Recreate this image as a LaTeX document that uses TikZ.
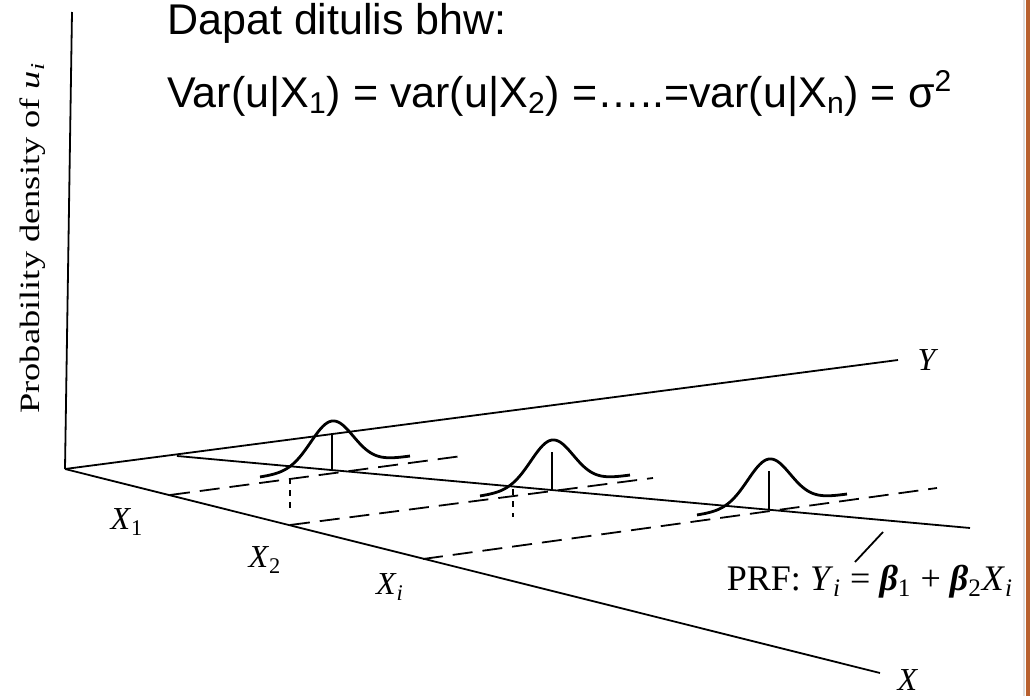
\documentclass[tikz,border=0pt]{standalone}
\usepackage{fontspec}
\usepackage{graphicx}
\setmainfont{Liberation Serif}
\newfontfamily\slidefont{Liberation Sans}
\definecolor{slidebrown}{RGB}{184,96,46}

\begin{document}
\begin{tikzpicture}[
    x=0.5pt, y=-0.5pt,
    axis/.style={line width=0.9pt},
    guide/.style={line width=0.9pt, dash pattern=on 10pt off 5pt},
    drop/.style={line width=0.8pt, dash pattern=on 3pt off 3pt},
    slidetext/.style={anchor=base west, inner sep=0pt, font=\slidefont\fontsize{21.5}{25}\selectfont},
    lbl/.style={inner sep=0pt, font=\fontsize{16}{18}\selectfont},
    pics/density/.style={code={
        \draw[line width=1.4pt] plot[domain=-72:78, samples=70, smooth] (\x, {-4-0.14*\x-46*exp(-(\x*\x)/900)});
        \draw[line width=0.9pt] (0,0) -- (0,-38);
    }}
  ]
    \useasboundingbox (0,0) rectangle (1030,696);
    % slide frame on the right
    \draw[black!12, line width=0.6pt] (1024,0) -- (1024,696);
    \fill[slidebrown] (1026,0) rectangle (1030,696);

    % text on the slide
    \node[slidetext] (head) at (167,34) {Dapat ditulis bhw:};
    \node[slidetext] (vareq) at (167,107) {Var(u|X\textsubscript{1}) = var(u|X\textsubscript{2}) =…..=var(u|X\textsubscript{n}) = σ\textsuperscript{2}};

    % axes
    \coordinate (O) at (65,469);
    \coordinate (ztop) at (72,12);
    \coordinate (yend) at (898,360);
    \coordinate (xend) at (880,673);
    \draw[axis] (O) -- (ztop);
    \draw[axis] (O) -- (yend);
    \draw[axis] (O) -- (xend);

    % regression line
    \coordinate (prfa) at (177,456);
    \coordinate (prfb) at (970,528);
    \draw[axis] (prfa) -- (prfb);

    % lines through X1, X2, Xi
    \coordinate (p1) at (170,495);
    \coordinate (p2) at (290,525);
    \coordinate (pi) at (423,559);
    \coordinate (q1) at (462,456);
    \coordinate (q2) at (653,478);
    \coordinate (qi) at (937,488);
    \draw[guide] (p1) -- (q1);
    \draw[guide] (p2) -- (q2);
    \draw[guide] (pi) -- (qi);

    % short drops
    \coordinate (d1a) at (290,478);
    \coordinate (d1b) at (290,512);
    \coordinate (d2a) at (513,489);
    \coordinate (d2b) at (513,517);
    \draw[drop] (d1a) -- (d1b);
    \draw[drop] (d2a) -- (d2b);

    % densities on the line
    \coordinate (b1) at (332,471);
    \coordinate (b2) at (552,490);
    \coordinate (b3) at (769,509);
    \pic at (b1) {density};
    \pic at (b2) {density};
    \pic at (b3) {density};

    % labels
    \node[rotate=90, inner sep=0pt, font=\fontsize{14}{16}\selectfont] (zlab) at (33,238)
      {\scalebox{1.3}[1]{Probability density of \textit{u}\textsubscript{\textit{i}}}};
    \node[lbl] (x1) at (127,522) {\textit{X}\textsubscript{1}};
    \node[lbl] (x2) at (265,560) {\textit{X}\textsubscript{2}};
    \node[lbl] (xi) at (390,587) {\textit{X}\textsubscript{\textit{i}}};
    \node[lbl] (ylab) at (928,360) {\textit{Y}};
    \node[lbl] (xlab) at (908,680) {\textit{X}};
    \node[lbl, font=\fontsize{18}{20}\selectfont] (prf) at (870,582)
      {PRF: \textit{Y}\textsubscript{\textit{i}} = \textbf{\textit{β}}\textsubscript{1} + \textbf{\textit{β}}\textsubscript{2}\textit{X}\textsubscript{\textit{i}}};
    \coordinate (lead) at (883,532);
    \coordinate (leadfoot) at (855,562);
    \draw[line width=0.9pt] (leadfoot) -- (lead);
  \end{tikzpicture}
\end{document}
